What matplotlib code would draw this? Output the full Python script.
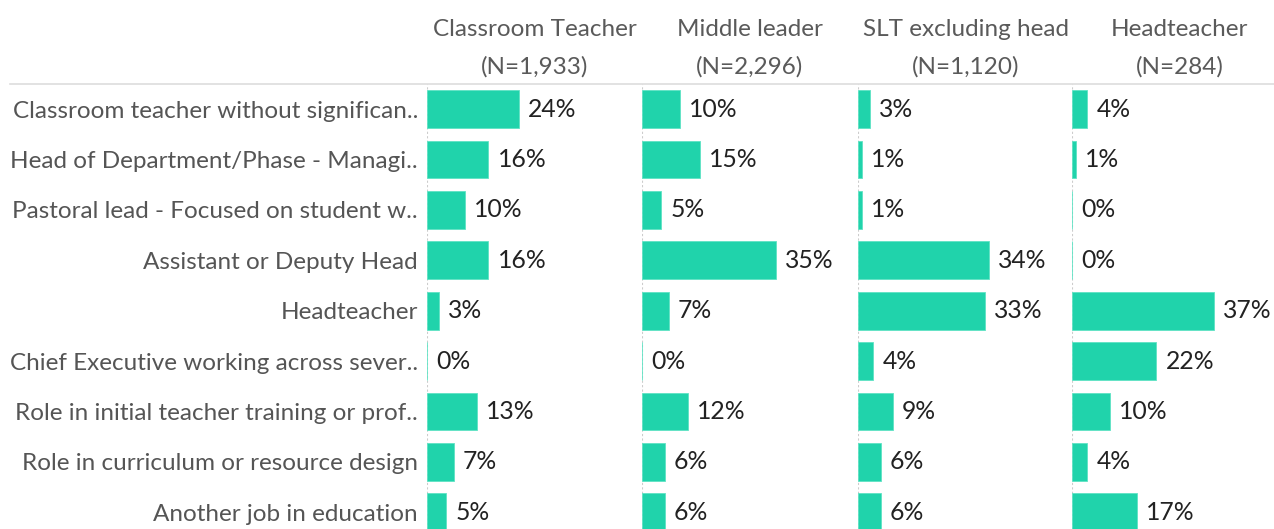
import matplotlib
matplotlib.use("Agg")
import matplotlib.pyplot as plt
from matplotlib.lines import Line2D

plt.rcParams['font.family'] = ['Lato', 'DejaVu Sans']

categories = [
    "Classroom teacher without significan..",
    "Head of Department/Phase - Managi..",
    "Pastoral lead - Focused on student w..",
    "Assistant or Deputy Head",
    "Headteacher",
    "Chief Executive working across sever..",
    "Role in initial teacher training or prof..",
    "Role in curriculum or resource design",
    "Another job in education",
]
groups = ["Classroom Teacher", "Middle leader", "SLT excluding head", "Headteacher"]
group_n = ["(N=1,933)", "(N=2,296)", "(N=1,120)", "(N=284)"]
classroom_teacher = [24, 16, 10, 16, 3, 0, 13, 7, 5]
middle_leader = [10, 15, 5, 35, 7, 0, 12, 6, 6]
slt_excluding_head = [3, 1, 1, 34, 33, 4, 9, 6, 6]
headteacher = [4, 1, 0, 0, 37, 22, 10, 4, 17]
series = [classroom_teacher, middle_leader, slt_excluding_head, headteacher]

W, H = 1274, 529
fig = plt.figure(figsize=(W / 100, H / 100), dpi=100)

bar_color = "#20d3ab"
label_color = "#555555"
value_color = "#222222"

panel_left = [427, 642, 858, 1072]
panel_w = 215
top_px = 84
ypos = list(range(len(categories)))
y_bottom = (H - 109) / 50.4

for i, (vals, left) in enumerate(zip(series, panel_left)):
    ax = fig.add_axes([left / W, 0, panel_w / W, (H - top_px) / H])
    ax.barh(ypos, vals, height=0.75, color=bar_color, edgecolor="#5fe3c4", linewidth=0.6)
    ax.set_xlim(0, 56)
    ax.set_ylim(y_bottom, -0.5)
    for s in ax.spines.values():
        s.set_visible(False)
    ax.set_xticks([])
    ax.axvline(0, color="#cccccc", linestyle=(0, (2, 2)), linewidth=0.8, zorder=0)
    for y, v in zip(ypos, vals):
        ax.annotate(f"{v}%", xy=(v, y), xytext=(6.5, 0), textcoords="offset points",
                    ha="left", va="center", fontsize=17.8, color=value_color)
    if i == 0:
        ax.set_yticks(ypos)
        ax.set_yticklabels(categories, fontsize=17.45, color=label_color)
        ax.tick_params(axis="y", length=0, pad=6.5)
    else:
        ax.set_yticks([])
    cx = (left + panel_w / 2) / W
    fig.text(cx, 1 - 29 / H, groups[i], ha="center", va="center", fontsize=17.5, color="#5a5a5a")
    fig.text(cx, 1 - 67 / H, group_n[i], ha="center", va="center", fontsize=17.5, color="#5a5a5a")

fig.add_artist(Line2D([10 / W, 1], [1 - top_px / H, 1 - top_px / H], color="#dddddd", linewidth=1.2))

fig.savefig("out.png", dpi=100)
